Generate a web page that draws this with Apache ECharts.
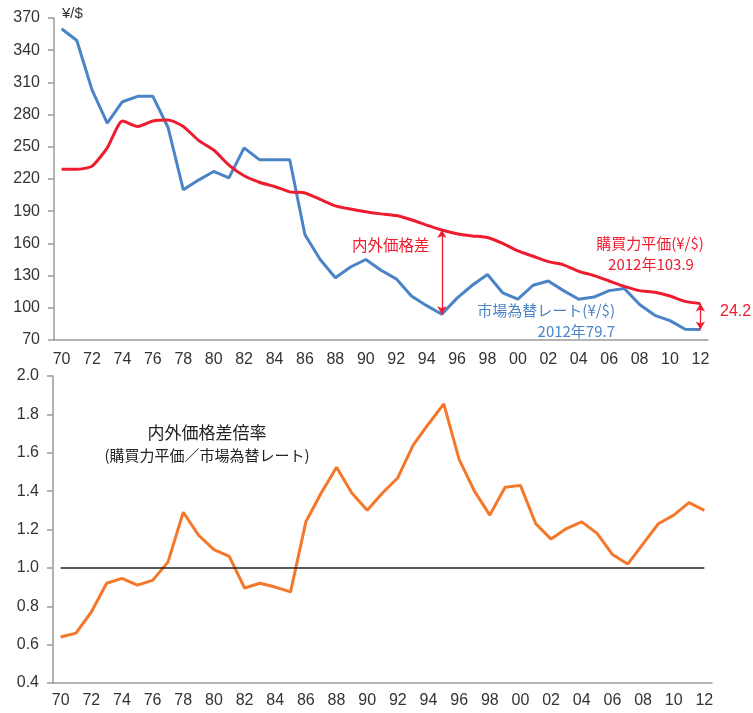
<!DOCTYPE html>
<html>
<head>
<meta charset="utf-8">
<script src="https://cdn.jsdelivr.net/npm/echarts@6/dist/echarts.min.js"></script>
<style>
  html, body { margin: 0; padding: 0; background: #fff; }
  #chart { width: 753px; height: 713px; }
</style>
</head>
<body>
<div id="chart"></div>
<script>
// Years 1970–2012, labelled with two digits
const years = [];
for (let y = 1970; y <= 2012; y++) years.push(String(y % 100).padStart(2, '0'));

// Market exchange rate (yen per dollar)
const marketRate = [
  360, 349, 303, 272, 292, 297, 297, 268, 210, 219,
  227, 221, 249, 238, 238, 238, 168, 145, 128, 138,
  145, 135, 127, 111, 102, 94, 109, 121, 131, 114,
  108, 121, 125, 116, 108, 110, 116, 118, 103, 93,
  88, 80, 79.7
];

// Purchasing power parity (yen per dollar)
const ppp = [
  229, 229, 232, 249, 274, 269, 274, 275, 269, 256,
  247, 233, 223, 217, 213, 208, 207, 201, 195, 192,
  189.5, 187.5, 186, 182, 177, 172.5, 169, 167, 165.5, 160,
  153, 148, 143, 140, 134, 130, 125, 120, 116, 114.5,
  111, 106, 103.9
];

// Price level ratio (PPP / market rate)
const ratio = [
  0.64, 0.66, 0.77, 0.92, 0.945, 0.91, 0.935, 1.03, 1.29, 1.17,
  1.095, 1.06, 0.895, 0.92, 0.90, 0.875, 1.24, 1.39, 1.525, 1.39,
  1.30, 1.39, 1.47, 1.64, 1.75, 1.855, 1.565, 1.40, 1.275, 1.42,
  1.43, 1.23, 1.15, 1.205, 1.24, 1.18, 1.07, 1.02, 1.125, 1.23,
  1.275, 1.34, 1.30
];

const topTicks = { min: 70, max: 370, interval: 30 };
const bottomTicks = { min: 0.4, max: 2.0, interval: 0.2 };

const BLUE = '#4a84c6';
const RED = '#ee1c2e';
const ORANGE = '#f5782a';
const AXIS = '#9a9a9a';
const LABEL = '#333333';
const NUM_FONT = '"Liberation Sans", Arial, sans-serif';
const JP_FONT = '"Noto Sans CJK JP", "Liberation Sans", sans-serif';

const last = years.length - 1;
const idx1995 = 25;
const gap2012 = (ppp[last] - marketRate[last]).toFixed(1);

function catAxis(gridIndex, margin) {
  return {
    type: 'category', gridIndex, data: years, boundaryGap: true,
    axisLine: { lineStyle: { color: AXIS, width: 1.5 } },
    axisTick: { interval: 1, length: 5, lineStyle: { color: AXIS, width: 1.5 } },
    axisLabel: { interval: 1, color: LABEL, fontSize: 16, fontFamily: NUM_FONT, margin },
    splitLine: { show: false }
  };
}

function valAxis(gridIndex, t, digits) {
  return {
    type: 'value', gridIndex, min: t.min, max: t.max, interval: t.interval,
    axisLine: { show: true, lineStyle: { color: AXIS, width: 1.5 } },
    axisTick: { show: true, length: 6, lineStyle: { color: AXIS, width: 1.5 } },
    axisLabel: {
      color: LABEL, fontSize: 16, fontFamily: NUM_FONT, margin: 14,
      formatter: v => v.toFixed(digits)
    },
    splitLine: { show: false }
  };
}

const chart = echarts.init(document.getElementById('chart'));
chart.setOption({
  animation: false,
  backgroundColor: '#fff',
  grid: [
    { left: 54, right: 45, top: 18, height: 322 },
    { left: 53, right: 41, top: 376, height: 307 }
  ],
  xAxis: [catAxis(0, 12), catAxis(1, 10)],
  yAxis: [valAxis(0, topTicks, 0), valAxis(1, bottomTicks, 1)],
  series: [
    {
      name: '購買力平価', type: 'line', xAxisIndex: 0, yAxisIndex: 0,
      data: ppp, smooth: 0.2, symbol: 'none',
      lineStyle: { color: RED, width: 3 }, z: 3,
      markLine: {
        silent: true, symbol: ['arrow', 'arrow'], symbolSize: [7, 8],
        label: { show: false },
        lineStyle: { color: RED, width: 1.3, type: 'solid' },
        data: [
          [{ coord: [idx1995, ppp[idx1995]] }, { coord: [idx1995, marketRate[idx1995]] }],
          [{ coord: [last, ppp[last]] }, { coord: [last, marketRate[last]] }]
        ]
      }
    },
    {
      name: '市場為替レート', type: 'line', xAxisIndex: 0, yAxisIndex: 0,
      data: marketRate, symbol: 'none',
      lineStyle: { color: BLUE, width: 3 }, z: 2
    },
    {
      name: '内外価格差倍率', type: 'line', xAxisIndex: 1, yAxisIndex: 1,
      data: ratio, symbol: 'none',
      lineStyle: { color: ORANGE, width: 3 }, z: 3,
      markLine: {
        silent: true, symbol: ['none', 'none'],
        label: { show: false },
        lineStyle: { color: '#222', width: 1.5, type: 'solid' },
        data: [[{ coord: [0, 1.0] }, { coord: [last, 1.0] }]]
      }
    }
  ],
  graphic: [
    { type: 'text', x: 62, y: 14,
      style: { text: '¥/$', fill: LABEL, font: '15px ' + NUM_FONT,
               textVerticalAlign: 'middle' } },
    { type: 'text', x: 352, y: 245,
      style: { text: '内外価格差', fill: RED, font: '15.5px ' + JP_FONT,
               textVerticalAlign: 'middle' } },
    { type: 'text', x: 650, y: 243,
      style: { text: '購買力平価(¥/$)', fill: RED, font: '15px ' + JP_FONT,
               textAlign: 'center', textVerticalAlign: 'middle' } },
    { type: 'text', x: 651, y: 264,
      style: { text: '2012年' + ppp[last], fill: RED, font: '15px ' + JP_FONT,
               textAlign: 'center', textVerticalAlign: 'middle' } },
    { type: 'text', x: 615, y: 310,
      style: { text: '市場為替レート(¥/$)', fill: BLUE, font: '15px ' + JP_FONT,
               textAlign: 'right', textVerticalAlign: 'middle' } },
    { type: 'text', x: 615, y: 331,
      style: { text: '2012年' + marketRate[last], fill: BLUE, font: '15px ' + JP_FONT,
               textAlign: 'right', textVerticalAlign: 'middle' } },
    { type: 'text', x: 720, y: 312,
      style: { text: gap2012, fill: RED, font: '16px ' + NUM_FONT,
               textAlign: 'left', textVerticalAlign: 'middle' } },
    { type: 'text', x: 207, y: 433,
      style: { text: '内外価格差倍率', fill: '#222', font: '17px ' + JP_FONT,
               textAlign: 'center', textVerticalAlign: 'middle' } },
    { type: 'text', x: 207, y: 455,
      style: { text: '(購買力平価／市場為替レート)', fill: '#222', font: '15px ' + JP_FONT,
               textAlign: 'center', textVerticalAlign: 'middle' } }
  ]
});
</script>
</body>
</html>
